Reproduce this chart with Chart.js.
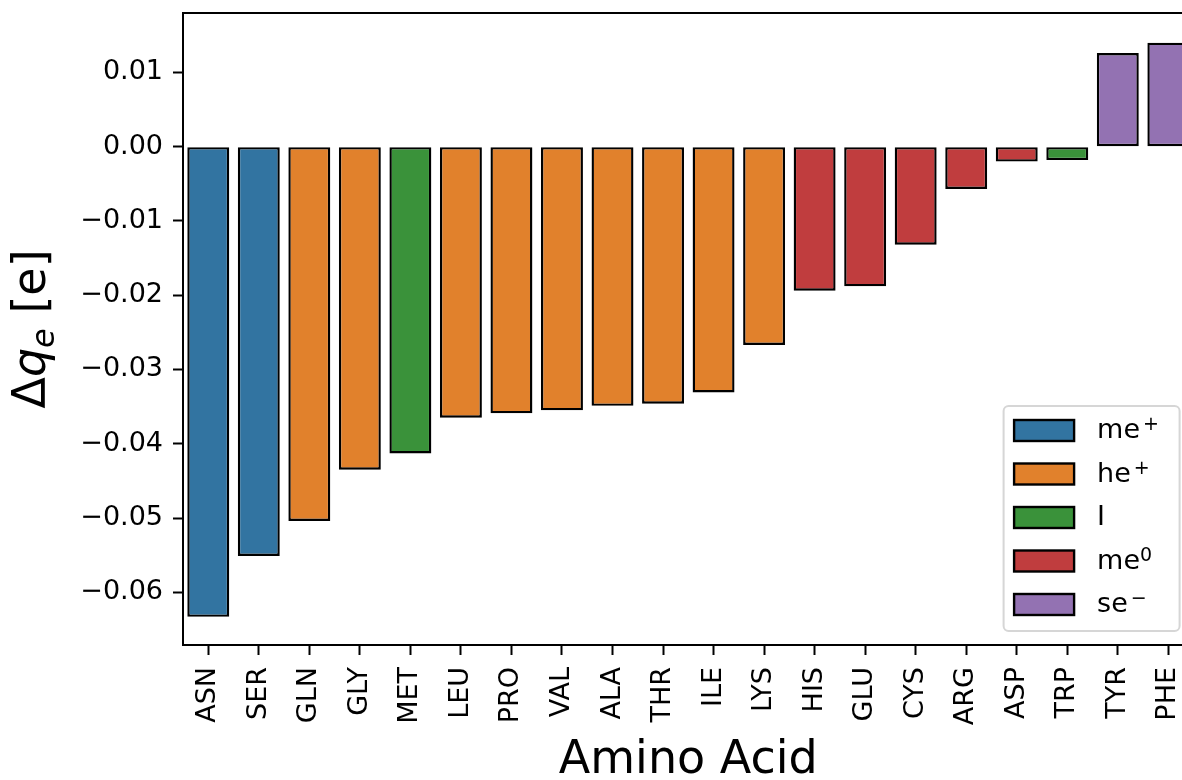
<!DOCTYPE html>
<html>
<head>
<meta charset="utf-8">
<script src="https://cdn.jsdelivr.net/npm/chart.js@4.4.1/dist/chart.umd.min.js"></script>
<style>
html, body { margin: 0; padding: 0; background: #ffffff; overflow: hidden; }
#wrap { width: 1182px; height: 780px; overflow: hidden; position: relative; background: #ffffff; }
canvas { display: block; }
</style>
</head>
<body>
<div id="wrap"><canvas id="c" width="1200" height="780"></canvas></div>
<script>
// ---- data ----
const categories = ['ASN','SER','GLN','GLY','MET','LEU','PRO','VAL','ALA','THR','ILE','LYS','HIS','GLU','CYS','ARG','ASP','TRP','TYR','PHE'];
const deltaQ = [-0.0633,-0.0551,-0.0504,-0.0435,-0.0413,-0.0365,-0.0359,-0.0355,-0.0349,-0.0346,-0.0331,-0.0267,-0.0194,-0.0188,-0.0132,-0.0057,-0.0020,-0.0018,0.0126,0.0140];
const categoryGroup = ['me⁺','me⁺','he⁺','he⁺','I','he⁺','he⁺','he⁺','he⁺','he⁺','he⁺','he⁺','me⁰','me⁰','me⁰','me⁰','me⁰','I','se⁻','se⁻'];
const groupLabels = ['me⁺','he⁺','I','me⁰','se⁻'];
const groupColors = ['#3274a1','#e1812c','#3a923a','#c03d3e','#9372b2'];
const yTicks = [0.01, 0.00, -0.01, -0.02, -0.03, -0.04, -0.05, -0.06];
const yMin = -0.0671, yMax = 0.0180;
const xTitle = 'Amino Acid';
const yTitleParts = [
  { t: 'Δ', style: '', size: 46, dy: 0 },
  { t: 'q', style: 'italic ', size: 46, dy: 0 },
  { t: 'e', style: 'italic ', size: 32, dy: 9 },
  { t: ' [e]', style: '', size: 46, dy: 0 }
];

const FONT = '"DejaVu Sans", "Liberation Sans", sans-serif';
Chart.defaults.font.family = FONT;
Chart.defaults.color = '#000000';

const datasets = groupLabels.map((g, i) => ({
  label: g,
  data: deltaQ.map((v, k) => categoryGroup[k] === g ? v : null),
  backgroundColor: groupColors[i],
  borderColor: '#000000',
  borderWidth: 2.4,
  borderSkipped: false,
  grouped: false,
  barPercentage: 0.83,
  categoryPercentage: 1.0
}));

const supMap = { '⁺': '+', '⁰': '0', '⁻': '−' };

function zeroPad(scale) {
  scale.paddingTop = 0; scale.paddingBottom = 0;
  scale.paddingLeft = 0; scale.paddingRight = 0;
}

const framePlugin = {
  id: 'frame',
  afterDatasetsDraw(chart) {
    const { ctx, chartArea: a } = chart;
    ctx.save();
    ctx.strokeStyle = '#000000';
    ctx.lineWidth = 2;
    ctx.strokeRect(a.left, a.top, a.right - a.left, a.bottom - a.top);
    ctx.restore();
  },
  afterDraw(chart) {
    const { ctx, chartArea: a } = chart;
    // ---- y axis title with math styling ----
    ctx.save();
    const cy = (a.top + a.bottom) / 2;
    let total = 0;
    yTitleParts.forEach(p => {
      ctx.font = p.style + p.size + 'px ' + FONT;
      p.w = ctx.measureText(p.t).width;
      total += p.w;
    });
    ctx.translate(45, cy);
    ctx.rotate(-Math.PI / 2);
    ctx.fillStyle = '#000000';
    ctx.textBaseline = 'alphabetic';
    ctx.textAlign = 'left';
    let x = -total / 2;
    yTitleParts.forEach(p => {
      ctx.font = p.style + p.size + 'px ' + FONT;
      ctx.fillText(p.t, x, p.dy);
      x += p.w;
    });
    ctx.restore();

    // ---- legend (lower right inside axes) ----
    const bw = 176, bh = 225;
    const bx = a.right - 14 - bw;
    const by = a.bottom - 14 - bh;
    ctx.save();
    ctx.beginPath();
    ctx.roundRect(bx, by, bw, bh, 5);
    ctx.fillStyle = 'rgba(255,255,255,0.8)';
    ctx.fill();
    ctx.strokeStyle = '#d6d6d6';
    ctx.lineWidth = 2;
    ctx.stroke();
    chart.data.datasets.forEach((ds, i) => {
      const rc = by + 24.5 + i * 43.5;
      ctx.fillStyle = ds.backgroundColor;
      ctx.fillRect(bx + 10.5, rc - 10.5, 60, 21);
      ctx.strokeStyle = '#000000';
      ctx.lineWidth = 2.4;
      ctx.strokeRect(bx + 10.5, rc - 10.5, 60, 21);
      const label = ds.label;
      let base = '', sup = '';
      for (const ch of label) {
        if (supMap[ch]) sup += supMap[ch]; else base += ch;
      }
      const baseY = rc + 7.5;
      ctx.fillStyle = '#000000';
      ctx.textAlign = 'left';
      ctx.textBaseline = 'alphabetic';
      ctx.font = '27px ' + FONT;
      const tx = bx + 93.5;
      ctx.fillText(base, tx, baseY);
      const bwid = ctx.measureText(base).width;
      if (sup) {
        ctx.font = '19px ' + FONT;
        const gap = (sup === '0') ? 0 : 3;
        ctx.fillText(sup, tx + bwid + gap, baseY - 8);
      }
    });
    ctx.restore();
  }
};

new Chart(document.getElementById('c'), {
  type: 'bar',
  data: { labels: categories, datasets: datasets },
  options: {
    responsive: false,
    animation: false,
    devicePixelRatio: 1,
    layout: { padding: { top: 13, right: 6.4, bottom: 0, left: 0 } },
    plugins: {
      legend: { display: false },
      tooltip: { enabled: false }
    },
    scales: {
      x: {
        type: 'category',
        offset: true,
        border: { display: false },
        grid: { display: true, drawOnChartArea: false, drawTicks: true, tickLength: 10, tickWidth: 2, tickColor: '#000000', offset: false },
        ticks: { autoSkip: false, minRotation: 90, maxRotation: 90, padding: 12, color: '#000000', font: { size: 27, family: FONT } },
        title: { display: true, text: xTitle, color: '#000000', font: { size: 46, family: FONT, lineHeight: 0.9 }, padding: { top: 0, bottom: -1.5 } },
        afterFit(scale) { scale.height = 135; zeroPad(scale); }
      },
      y: {
        type: 'linear',
        min: yMin,
        max: yMax,
        border: { display: false },
        grid: { display: true, drawOnChartArea: false, drawTicks: true, tickLength: 10, tickWidth: 2, tickColor: '#000000' },
        ticks: {
          padding: 10,
          color: '#000000',
          font: { size: 27, family: FONT },
          callback: (v) => (v < -1e-9 ? '−' + Math.abs(v).toFixed(2) : Math.abs(v).toFixed(2))
        },
        afterBuildTicks(scale) { scale.ticks = yTicks.map(v => ({ value: v })); },
        afterFit(scale) { scale.width = 183; zeroPad(scale); }
      }
    }
  },
  plugins: [framePlugin]
});
</script>
</body>
</html>
